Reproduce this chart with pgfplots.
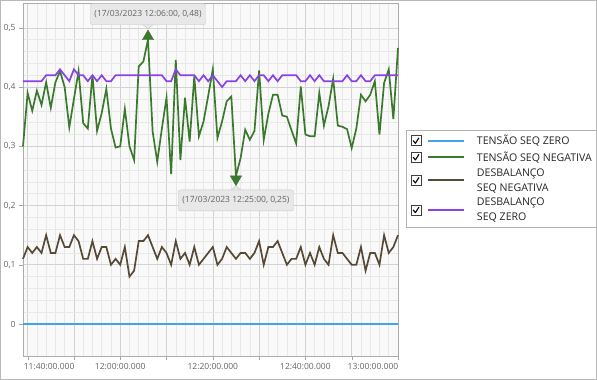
\documentclass[border=0pt]{standalone}
\usepackage{pgfplots}
\usepackage{pgfplotstable}
\usepackage{fontspec}
\setmainfont{Open Sans}
\pgfplotsset{compat=1.18}
\definecolor{cblue}{RGB}{62,166,232}
\definecolor{cgreen}{RGB}{59,122,46}
\definecolor{cbrown}{RGB}{86,74,54}
\definecolor{cpurple}{RGB}{139,66,228}
\definecolor{tipfill}{RGB}{232,232,232}
\definecolor{tipdraw}{RGB}{200,200,200}
\definecolor{labgray}{RGB}{100,100,100}

\pgfplotstableread{
m green brown purple blue
-21 0.300 0.11 0.41 0
-20 0.390 0.13 0.41 0
-19 0.360 0.12 0.41 0
-18 0.394 0.13 0.41 0
-17 0.370 0.12 0.41 0
-16 0.408 0.15 0.42 0
-15 0.365 0.12 0.42 0
-14 0.408 0.12 0.42 0
-13 0.427 0.15 0.43 0
-12 0.400 0.13 0.42 0
-11 0.332 0.13 0.41 0
-10 0.380 0.15 0.43 0
-9 0.427 0.14 0.42 0
-8 0.339 0.11 0.42 0
-7 0.330 0.11 0.41 0
-6 0.420 0.14 0.42 0
-5 0.326 0.11 0.41 0
-4 0.356 0.13 0.42 0
-3 0.397 0.13 0.41 0
-2 0.330 0.10 0.41 0
-1 0.298 0.11 0.42 0
0 0.300 0.10 0.42 0
1 0.363 0.13 0.42 0
2 0.300 0.08 0.42 0
3 0.277 0.09 0.42 0
4 0.435 0.14 0.42 0
5 0.443 0.14 0.42 0
6 0.480 0.15 0.42 0
7 0.325 0.13 0.42 0
8 0.274 0.11 0.42 0
9 0.330 0.13 0.42 0
10 0.382 0.12 0.41 0
11 0.253 0.10 0.41 0
12 0.446 0.14 0.43 0
13 0.277 0.11 0.42 0
14 0.382 0.12 0.42 0
15 0.308 0.10 0.42 0
16 0.418 0.13 0.42 0
17 0.317 0.10 0.41 0
18 0.342 0.11 0.42 0
19 0.385 0.12 0.41 0
20 0.430 0.13 0.42 0
21 0.314 0.10 0.41 0
22 0.342 0.11 0.40 0
23 0.376 0.13 0.41 0
24 0.384 0.12 0.41 0
25 0.250 0.11 0.41 0
26 0.280 0.12 0.42 0
27 0.328 0.12 0.41 0
28 0.311 0.11 0.42 0
29 0.326 0.12 0.41 0
30 0.428 0.14 0.42 0
31 0.311 0.10 0.42 0
32 0.355 0.13 0.41 0
33 0.387 0.13 0.42 0
34 0.387 0.14 0.41 0
35 0.352 0.12 0.42 0
36 0.350 0.10 0.42 0
37 0.327 0.11 0.42 0
38 0.305 0.11 0.42 0
39 0.401 0.13 0.41 0
40 0.320 0.10 0.41 0
41 0.317 0.12 0.42 0
42 0.317 0.10 0.41 0
43 0.390 0.13 0.42 0
44 0.335 0.11 0.41 0
45 0.368 0.10 0.41 0
46 0.414 0.15 0.41 0
47 0.335 0.12 0.41 0
48 0.333 0.12 0.41 0
49 0.329 0.11 0.42 0
50 0.297 0.10 0.41 0
51 0.330 0.10 0.41 0
52 0.387 0.13 0.42 0
53 0.376 0.09 0.41 0
54 0.387 0.12 0.41 0
55 0.410 0.12 0.42 0
56 0.320 0.10 0.42 0
57 0.407 0.15 0.42 0
58 0.430 0.12 0.42 0
59 0.346 0.13 0.42 0
60 0.466 0.15 0.42 0
}\datatable

\begin{document}
\begin{tikzpicture}
\useasboundingbox (-23pt,-24pt) rectangle (574pt,356pt);
\begin{axis}[
  scale only axis,
  width=375pt, height=353pt,
  xmin=-21, xmax=60,
  ymin=-0.054, ymax=0.542,
  clip=false,
  axis background/.style={fill=gray!5},
  axis line style={gray!65},
  xtick={-20,-10,0,10,20,30,40,50,60},
  xticklabels={\hspace*{43pt}11:40:00.000,,12:00:00.000,,12:20:00.000,,12:40:00.000,,13:00:00.000\hspace*{50pt}},
  ytick={0,0.1,0.2,0.3,0.4,0.5},
  minor x tick num=4,
  minor y tick num=4,
  grid=both,
  major grid style={gray!35, line width=0.6pt},
  minor grid style={gray!18, line width=0.5pt},
  tick align=outside,
  major tick length=4pt,
  minor tick length=0pt,
  xtick pos=bottom, ytick pos=left,
  tick style={gray!70},
  tick label style={font=\fontsize{8.5}{10}\selectfont, text=labgray},
  /pgf/number format/.cd, use comma, 1000 sep={}, assume math mode=true,
  /pgfplots/.cd,
  scaled y ticks=false,
  yticklabel style={/pgf/number format/fixed},
  legend image code/.code={
    \draw[draw=black!75, fill=white, line width=0.6pt, solid] (0pt,-5pt) rectangle (10pt,5pt);
    \draw[draw=black, line width=1.1pt, solid, line join=round] (2.2pt,0.2pt) -- (4.4pt,-2.6pt) -- (8pt,3pt);
    \draw[#1, line width=2pt] (17pt,0pt) -- (53pt,0pt);
  },
  legend style={at={(1.0213,0.640)}, anchor=north west, draw=gray!60, fill=white,
    font=\fontsize{10.6}{15}\selectfont, text=black!85,
    cells={anchor=west, align=left},
    inner xsep=4.5pt, inner ysep=3pt,
    /tikz/every odd column/.append style={column sep=10pt},
    row sep=1.5pt},
]
\addplot[cblue, line width=1.7pt] table[x=m, y=blue] {\datatable};
\addlegendentry{TENSÃO SEQ ZERO}
\addplot[cgreen, line width=1.7pt] table[x=m, y=green] {\datatable};
\addlegendentry{TENSÃO SEQ NEGATIVA}
\addplot[cbrown, line width=1.7pt] table[x=m, y=brown] {\datatable};
\addlegendentry{DESBALANÇO\\SEQ NEGATIVA}
\addplot[cpurple, line width=1.7pt] table[x=m, y=purple] {\datatable};
\addlegendentry{DESBALANÇO\\SEQ ZERO}
\addplot[cgreen, only marks, mark=triangle*, mark size=6.5pt, mark options={yshift=3.25pt}, forget plot] coordinates {(6,0.48)};
\addplot[cgreen, only marks, mark=triangle*, mark size=6.5pt, mark options={yshift=-3.25pt, rotate=180}, forget plot] coordinates {(25,0.25)};
% tooltip pointers
\fill[tipfill, draw=tipdraw, line width=0.4pt] ([xshift=-5.5pt, yshift=15.3pt]axis cs:6,0.48) -- ([yshift=11pt]axis cs:6,0.48) -- ([xshift=5.5pt, yshift=15.3pt]axis cs:6,0.48);
\fill[tipfill, draw=tipdraw, line width=0.4pt] ([xshift=-5.5pt, yshift=-14.3pt]axis cs:25,0.25) -- ([yshift=-10pt]axis cs:25,0.25) -- ([xshift=5.5pt, yshift=-14.3pt]axis cs:25,0.25);
\node[fill=tipfill, draw=tipdraw, rounded corners=2pt, text=labgray, font=\fontsize{8.5}{10}\selectfont, inner xsep=4pt, minimum height=21pt] at (axis cs:6,0.48) [yshift=25.5pt] {(17/03/2023 12:06:00, 0,48)};
\node[fill=tipfill, draw=tipdraw, rounded corners=2pt, text=labgray, font=\fontsize{8.5}{10}\selectfont, inner xsep=4pt, minimum height=21pt] at (axis cs:25,0.25) [yshift=-24.5pt] {(17/03/2023 12:25:00, 0,25)};
\end{axis}
\draw[gray!55, line width=1.2pt] (-22.4pt,-23.4pt) rectangle (573.4pt,355.4pt);
\end{tikzpicture}
\end{document}
